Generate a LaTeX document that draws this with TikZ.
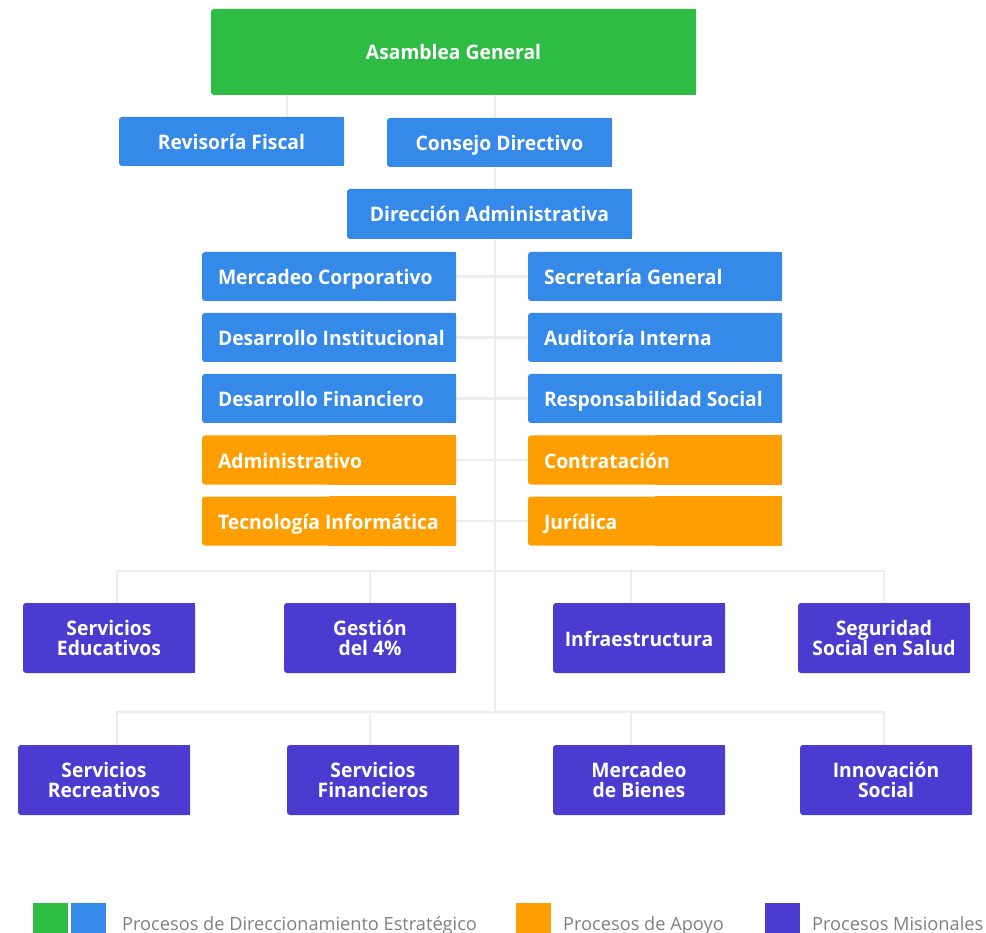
\documentclass[tikz,border=0pt]{standalone}
\usepackage{fontspec}
\setmainfont{Open Sans}[BoldFeatures={FakeStretch=0.965}]
\usetikzlibrary{positioning,backgrounds}
\definecolor{verde}{RGB}{47,188,69}
\definecolor{azul}{RGB}{53,137,232}
\definecolor{naranja}{RGB}{255,158,0}
\definecolor{morado}{RGB}{75,59,208}
\definecolor{lineagris}{RGB}{237,237,237}
\definecolor{textogris}{RGB}{128,128,128}
\tikzstyle{caja}=[rectangle, rounded corners=3pt, inner sep=0pt, text=white, font=\bfseries\fontsize{20}{20}\selectfont]
\tikzstyle{unalinea}=[text height=17pt, text depth=1pt]
\tikzstyle{cajasup}=[caja, unalinea, minimum width=225pt, minimum height=49pt]
\tikzstyle{cajacol}=[caja, unalinea, minimum width=254pt, minimum height=49pt, inner xsep=16pt,
  execute at begin node={\hbox to 222pt\bgroup}, execute at end node={\hss\egroup}]
\tikzstyle{cajamis}=[caja, fill=morado, minimum width=172pt, minimum height=70pt, align=center]
\tikzstyle{conector}=[draw=lineagris, line width=2.5pt]
\tikzstyle{muestra}=[rectangle, minimum width=35pt, minimum height=30pt, inner sep=0]
\tikzstyle{leyenda}=[anchor=base west, text=textogris, inner sep=0, font=\fontsize{18.2}{18.2}\selectfont]

\begin{document}
\begin{tikzpicture}[x=1pt,y=-1pt]
\useasboundingbox (0,0) rectangle (986,933);

% direccion
\node[caja, unalinea, fill=verde, minimum width=485pt, minimum height=86pt] (asamblea) at (453.5,52) {Asamblea General};
\node[cajasup, fill=azul] (revisoria) at (231.5,141.5) {Revisoría Fiscal};
\node[cajasup, fill=azul] (consejo) at (499.5,142.5) {Consejo Directivo};
\node[cajasup, fill=azul, minimum width=285pt, minimum height=50pt] (direccion) at (489.5,214) {Dirección Administrativa};

% columnas
\node[cajacol, fill=azul] (mercadeo) at (329,276.5) {Mercadeo Corporativo};
\node[cajacol, fill=azul] (desinst) at (329,337.5) {Desarrollo Institucional};
\node[cajacol, fill=azul] (desfin) at (329,398.5) {Desarrollo Financiero};
\node[cajacol, fill=naranja] (admin) at (329,460) {Administrativo};
\node[cajacol, fill=naranja] (tecno) at (329,521) {Tecnología Informática};
\node[cajacol, fill=azul] (secretaria) at (655,276.5) {Secretaría General};
\node[cajacol, fill=azul] (auditoria) at (655,337.5) {Auditoría Interna};
\node[cajacol, fill=azul] (responsab) at (655,398.5) {Responsabilidad Social};
\node[cajacol, fill=naranja] (contrat) at (655,460) {Contratación};
\node[cajacol, fill=naranja] (juridica) at (655,521) {Jurídica};

% misionales
\node[cajamis] (educ) at (109,638) {Servicios\\Educativos};
\node[cajamis] (gestion) at (370,638) {Gestión\\del 4\%};
\node[cajamis, unalinea] (infra) at (639,638) {Infraestructura};
\node[cajamis] (seguridad) at (884,638) {Seguridad\\Social en Salud};
\node[cajamis] (recrea) at (104,780) {Servicios\\Recreativos};
\node[cajamis] (financ) at (373,780) {Servicios\\Financieros};
\node[cajamis] (bienes) at (639,780) {Mercadeo\\de Bienes};
\node[cajamis] (innova) at (886,780) {Innovación\\Social};

\coordinate (barra1) at (495,571);
\coordinate (barra2) at (495,712);

\begin{scope}[on background layer]
\foreach \n/\c in {asamblea/verde,revisoria/azul,consejo/azul,direccion/azul,
  mercadeo/azul,desinst/azul,desfin/azul,admin/naranja,tecno/naranja,
  secretaria/azul,auditoria/azul,responsab/azul,contrat/naranja,juridica/naranja,
  educ/morado,gestion/morado,infra/morado,seguridad/morado,
  recrea/morado,financ/morado,bienes/morado,innova/morado}
  \fill[\c] (\n.north) rectangle (\n.south east);

\draw[conector] ([xshift=55.5pt]revisoria.north) -- ([xshift=55.5pt]revisoria.north |- asamblea.south);
\draw[conector] (asamblea.south -| barra2) -- (barra2);
\foreach \a/\b in {mercadeo/secretaria,desinst/auditoria,desfin/responsab,admin/contrat,tecno/juridica}
  \draw[conector] (\a.east) -- (\b.west);
\foreach \n/\dx in {educ/8,gestion/0,infra/-8,seguridad/0}
  \draw[conector] (barra1) -| ([xshift=\dx pt]\n.north);
\foreach \n/\dx in {recrea/13,financ/-3,bienes/-8,innova/-2}
  \draw[conector] (barra2) -| ([xshift=\dx pt]\n.north);
\end{scope}

% leyenda
\node[muestra, fill=verde] (mverde) at (50.5,918) {};
\node[muestra, fill=azul] (mazul) at (88.5,918) {};
\node[leyenda] (ldir) at (122,930) {Procesos de Direccionamiento Estratégico};
\node[muestra, fill=naranja] (mnaranja) at (533.5,918) {};
\node[leyenda] (lapoyo) at (563,930) {Procesos de Apoyo};
\node[muestra, fill=morado] (mmorado) at (782.5,918) {};
\node[leyenda] (lmis) at (812,930) {Procesos Misionales};
\end{tikzpicture}
\end{document}
